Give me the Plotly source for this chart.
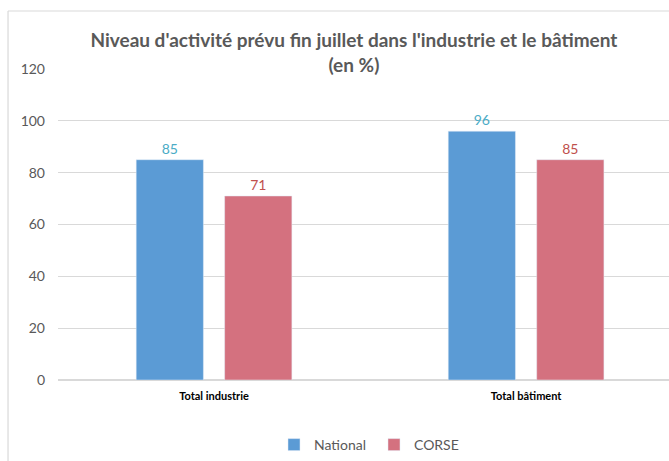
import plotly.graph_objects as go

categories = ["Total industrie", "Total bâtiment"]
national = [85, 96]
corse = [71, 85]
y_ticks = [0, 20, 40, 60, 80, 100, 120]

fig = go.Figure()
fig.add_trace(go.Bar(
    x=categories, y=national, name="National",
    marker=dict(color="#5B9BD5"),
    text=national, textposition="outside",
    textfont=dict(color="#4BACC6", size=14, family="Lato"),
    cliponaxis=False,
))
fig.add_trace(go.Bar(
    x=categories, y=corse, name="CORSE",
    marker=dict(color="#D4717F"),
    text=corse, textposition="outside",
    textfont=dict(color="#C0504D", size=14, family="Lato"),
    cliponaxis=False,
))

fig.update_layout(
    width=669, height=461,
    margin=dict(l=58, r=0, t=69, b=81),
    paper_bgcolor="white", plot_bgcolor="white",
    barmode="group", bargap=0.433, bargroupgap=0.24,
    font=dict(family="Lato", color="#595959"),
    title=dict(
        text="<b>Niveau d'activité prévu fin juillet dans l'industrie et le bâtiment<br>(en %)</b>",
        x=0.529, xanchor="center", y=0.898, yanchor="middle",
        font=dict(size=19, color="#595959", family="Lato"),
    ),
    xaxis=dict(
        range=[-0.5, 1.458], showgrid=False, showline=False, zeroline=False,
        tickfont=dict(size=11, color="#000000", family="Lato"),
        tickprefix="<b>", ticksuffix="</b>",
        ticks="", ticklabelstandoff=8,
    ),
    yaxis=dict(
        range=[0, 120], tickvals=y_ticks, showgrid=True, gridcolor="#D9D9D9",
        gridwidth=1, zeroline=True, zerolinecolor="#D9D9D9", zerolinewidth=1.5,
        showline=False, tickfont=dict(size=14, color="#595959", family="Lato"),
        ticks="", ticklabelstandoff=12,
    ),
    legend=dict(
        orientation="h", x=0.3535, xanchor="left", y=-0.209, yanchor="middle",
        font=dict(size=14, color="#595959", family="Lato"),
        itemwidth=30, traceorder="normal", entrywidth=55, entrywidthmode="pixels",
    ),
    showlegend=True,
    shapes=[
        dict(type="line", xref="paper", yref="paper", x0=-0.0818, x1=-0.0818,
             y0=-0.3, y1=1.1865, line=dict(color="#D9D9D9", width=1.2)),
        dict(type="line", xref="paper", yref="paper", x0=-0.0818, x1=1.1,
             y0=1.1865, y1=1.1865, line=dict(color="#D9D9D9", width=1.2)),
    ],
)

fig.write_html(
    "out.html",
    config={"displayModeBar": False},
    post_script="document.body.style.margin='0';document.body.style.overflow='hidden';",
)
